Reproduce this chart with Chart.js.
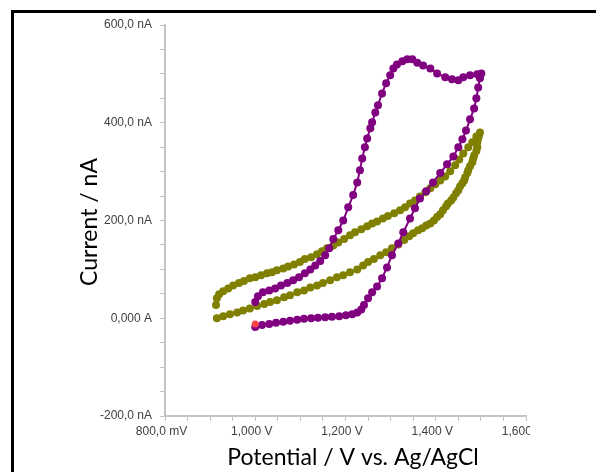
<!DOCTYPE html>
<html>
<head>
<meta charset="utf-8">
<title>Cyclic voltammogram</title>
<script src="https://cdn.jsdelivr.net/npm/chart.js@4.4.0/dist/chart.umd.min.js"></script>
<style>
  html, body { margin: 0; padding: 0; background: #fff; overflow: hidden; }
  #frame {
    position: absolute; left: 11px; top: 10px; width: 700px; height: 600px;
    border-left: 3px solid #000; border-top: 3px solid #000;
  }
  #cv { position: absolute; left: 0; top: 0; }
</style>
</head>
<body>
<div id="frame"></div>
<canvas id="cv" width="530" height="472"></canvas>
<script>
// scan 1 (purple): forward branch, then the return branch
const purpleE = [
  1.000, 1.015, 1.031, 1.046, 1.062, 1.077, 1.093, 1.108, 1.124, 1.139, 1.155,
  1.170, 1.186, 1.201, 1.215, 1.226, 1.235, 1.241, 1.250, 1.259, 1.270, 1.281,
  1.292, 1.303, 1.317, 1.328, 1.343, 1.354, 1.365, 1.379, 1.394, 1.410, 1.425,
  1.439, 1.450, 1.459, 1.467, 1.476, 1.485, 1.490, 1.494, 1.498, 1.501,
  1.492, 1.476, 1.461, 1.450, 1.436, 1.421, 1.403, 1.388, 1.372, 1.359, 1.348,
  1.337, 1.326, 1.314, 1.306, 1.299, 1.290, 1.281, 1.272, 1.266, 1.259, 1.255,
  1.248, 1.243, 1.237, 1.232, 1.226, 1.217, 1.206, 1.195, 1.184, 1.173, 1.164,
  1.155, 1.144, 1.133, 1.122, 1.110, 1.097, 1.084, 1.071, 1.057, 1.044, 1.031,
  1.017, 1.006, 1.000
];
const purpleI = [
  -18, -14, -12, -9, -7, -5, -3, -1, 0, 1, 2,
  3, 4, 6, 8, 12, 18, 27, 41, 53, 65, 82,
  104, 129, 153, 176, 204, 225, 245, 260, 278, 297, 315,
  331, 350, 366, 384, 407, 429, 450, 472, 491, 501,
  499, 497, 493, 487, 489, 493, 501, 511, 517, 523, 530,
  530, 526, 519, 511, 497, 481, 460, 436, 421, 401, 389,
  368, 350, 327, 303, 278, 252, 227, 200, 180, 162, 143,
  129, 117, 108, 100, 92, 84, 78, 72, 67, 61, 57,
  53, 45, 33
];

// scan 2 (olive): lower branch up to the vertex, then the upper branch back
const oliveE = [
  0.915, 0.929, 0.944, 0.960, 0.973, 0.988, 1.004, 1.020, 1.033, 1.048, 1.064,
  1.077, 1.093, 1.108, 1.122, 1.137, 1.150, 1.166, 1.181, 1.195, 1.210, 1.226,
  1.239, 1.250, 1.263, 1.277, 1.290, 1.303, 1.317, 1.330, 1.341, 1.350, 1.361,
  1.370, 1.379, 1.388, 1.396, 1.403, 1.410, 1.416, 1.423, 1.427, 1.434, 1.439,
  1.445, 1.450, 1.454, 1.459, 1.463, 1.465, 1.470, 1.472, 1.476, 1.481, 1.483,
  1.485, 1.490, 1.492, 1.492, 1.494, 1.496, 1.498,
  1.490, 1.481, 1.472, 1.461, 1.452, 1.443, 1.432, 1.421, 1.410, 1.399, 1.388,
  1.377, 1.365, 1.354, 1.343, 1.332, 1.321, 1.308, 1.294, 1.283, 1.270, 1.259,
  1.248, 1.235, 1.221, 1.210, 1.197, 1.184, 1.173, 1.159, 1.148, 1.137, 1.124,
  1.110, 1.099, 1.086, 1.073, 1.062, 1.048, 1.037, 1.026, 1.013, 1.000, 0.988,
  0.975, 0.964, 0.951, 0.940, 0.929, 0.920, 0.915, 0.913
];
const oliveI = [
  0, 4, 8, 12, 16, 20, 25, 29, 33, 37, 43,
  47, 53, 57, 63, 67, 72, 78, 84, 88, 94, 100,
  108, 115, 121, 129, 135, 143, 151, 160, 168, 174, 180,
  184, 190, 194, 200, 207, 213, 221, 229, 235, 241, 247,
  256, 262, 270, 276, 282, 288, 297, 303, 311, 319, 327,
  333, 342, 350, 360, 368, 374, 380,
  372, 360, 350, 337, 325, 313, 301, 290, 282, 274, 266,
  258, 249, 241, 235, 227, 221, 215, 209, 204, 198, 194,
  188, 182, 176, 170, 162, 155, 149, 143, 137, 131, 125,
  121, 115, 110, 106, 102, 98, 94, 92, 88, 84, 82,
  76, 72, 67, 61, 55, 49, 41, 27
];

// starting point marker
const startE = [1.000];
const startI = [-12];

const xTickValues = [0.8, 1.0, 1.2, 1.4, 1.6];
const xTickLabels = ["800,0 mV", "1,000 V", "1,200 V", "1,400 V", "1,600 V"];
const yTickValues = [-200, 0, 200, 400, 600];
const yTickLabels = ["-200,0 nA", "0,000 A", "200,0 nA", "400,0 nA", "600,0 nA"];

const xTitle = "Potential / V vs. Ag/AgCl";
const yTitle = "Current / nA";

const purple = "#800080";
const olive = "#808000";
const startRed = "#ff4545";
const axisGrey = "#c4c4c4";
const labelFont = { family: "'Liberation Sans', Arial, sans-serif", size: 12 };

function toPoints(es, is) {
  return es.map((e, k) => ({ x: e, y: is[k] }));
}

function tickText(values, labels, v) {
  const k = values.findIndex((t) => Math.abs(t - v) < 1e-6);
  return k >= 0 ? labels[k] : "";
}

// the two big axis titles, drawn where the original puts them
const axisTitles = {
  id: "axisTitles",
  afterDraw(chart) {
    const { ctx } = chart;
    ctx.save();
    ctx.fillStyle = "#000";
    ctx.font = "23px Lato";
    ctx.textAlign = "center";
    ctx.textBaseline = "alphabetic";
    ctx.fillText(xTitle, 353, 465);
    ctx.translate(97, 222);
    ctx.rotate(-Math.PI / 2);
    ctx.fillText(yTitle, 0, 0);
    ctx.restore();
  },
};

function series(data, color, radius) {
  return {
    data: data,
    showLine: true,
    borderColor: color,
    borderWidth: 2,
    pointBackgroundColor: color,
    pointBorderWidth: 0,
    pointRadius: radius,
    pointHoverRadius: radius,
    tension: 0,
  };
}

const ctx = document.getElementById("cv").getContext("2d");
new Chart(ctx, {
  type: "scatter",
  data: {
    datasets: [
      series(toPoints(startE, startI), startRed, 3.5),
      series(toPoints(purpleE, purpleI), purple, 4),
      series(toPoints(oliveE, oliveI), olive, 4),
    ],
  },
  options: {
    responsive: false,
    devicePixelRatio: 1,
    animation: false,
    layout: { padding: { top: 25, right: 4, left: 0, bottom: 0 } },
    plugins: { legend: { display: false }, tooltip: { enabled: false } },
    scales: {
      x: {
        type: "linear",
        min: 0.8,
        max: 1.6,
        ticks: {
          stepSize: 0.05,
          autoSkip: false,
          maxRotation: 0,
          minRotation: 0,
          padding: 3,
          labelOffset: -3.5,
          color: "#404040",
          font: labelFont,
          callback: (v) => tickText(xTickValues, xTickLabels, v),
        },
        grid: { drawOnChartArea: false, tickLength: 5, color: axisGrey },
        border: { color: axisGrey, width: 2 },
        afterFit: (s) => {
          s.height = 56;
          s.paddingLeft = 0;
          s.paddingRight = 0;
        },
      },
      y: {
        type: "linear",
        min: -200,
        max: 600,
        ticks: {
          stepSize: 50,
          autoSkip: false,
          padding: 8,
          color: "#404040",
          font: labelFont,
          callback: (v) => tickText(yTickValues, yTickLabels, v),
        },
        grid: { drawOnChartArea: false, tickLength: 5, color: axisGrey },
        border: { color: axisGrey, width: 2 },
        afterFit: (s) => {
          s.width = 165;
        },
      },
    },
  },
  plugins: [axisTitles],
});
</script>
</body>
</html>
